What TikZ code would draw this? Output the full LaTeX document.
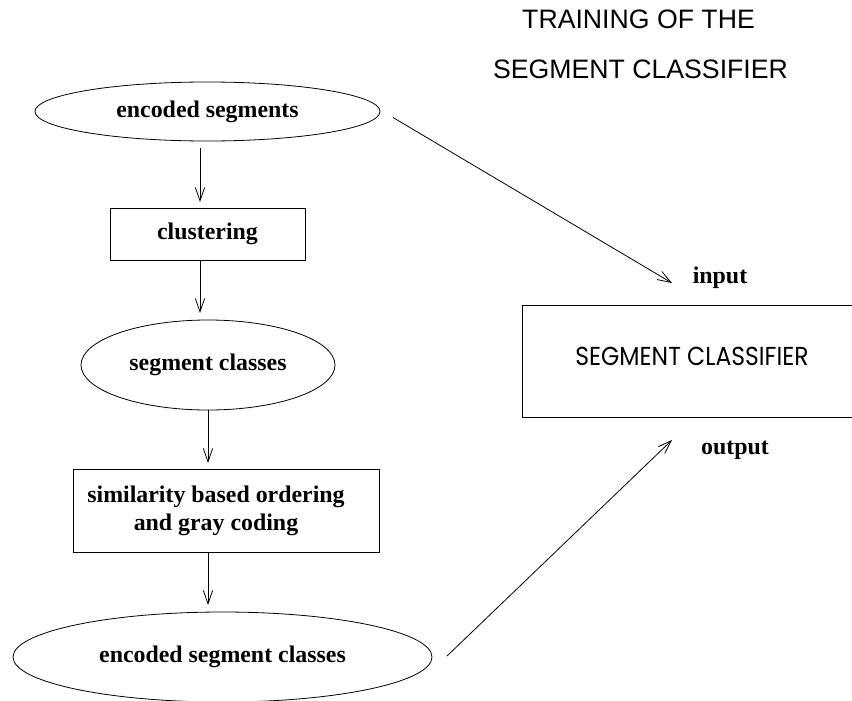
\documentclass[tikz,border=0pt]{standalone}
\usepackage{fontspec}
\setmainfont{Liberation Serif}
\newfontfamily\helvfont{Liberation Sans}
\newfontfamily\geofont{Poppins}
\usetikzlibrary{shapes.geometric,arrows.meta,calc}

\begin{document}
\begin{tikzpicture}[x=0.75pt,y=-0.75pt,
  every node/.style={inner sep=0pt, outer sep=0pt},
  lbl/.style={font=\fontsize{17.9}{22}\selectfont\bfseries},
  oval/.style={ellipse, draw, line width=0.6pt, lbl},
  stepbox/.style={rectangle, draw, line width=0.6pt, lbl, align=center},
  titletext/.style={font=\helvfont\fontsize{20}{24}\selectfont},
  arr/.style={line width=0.6pt, -{Straight Barb[length=10pt,width=7pt,line width=0.6pt]}}
]
\useasboundingbox (0,0) rectangle (852,700);

% title
\node[titletext] (t1) at (638.5,19) {TRAINING OF THE};
\node[titletext] (t2) at (640.5,69) {SEGMENT CLASSIFIER};

% left column: the training pipeline
\node[oval, minimum width=258.75pt, minimum height=44.25pt] (e1) at (207.5,111.5) {encoded segments};
\node[stepbox, minimum width=146.25pt, minimum height=39pt] (b1) at (207.5,234) {clustering};
\node[oval, minimum width=190.5pt, minimum height=67.5pt] (e2) at (208,365) {segment classes};
\node[stepbox, minimum width=229.5pt, minimum height=62.25pt] (b2) at (226,510.5)
  {\begin{tabular}{@{}c@{}}similarity based ordering\\[-1pt] and gray coding\end{tabular}\hspace{15pt}};
\node[oval, minimum width=314.25pt, minimum height=67.5pt] (e3) at (222.5,657) {encoded segment classes};

% the classifier block on the right
\node[rectangle, draw, line width=0.6pt, minimum width=255pt, minimum height=84pt] (sc) at (692,361)
  {\raisebox{3.5pt}[\height][\depth]{\resizebox{175pt}{\height}{\geofont\fontsize{19.5}{22}\selectfont SEGMENT CLASSIFIER}}};
\node[lbl] (in) at (720,278) {input};
\node[lbl] (out) at (735,450) {output};

% flow arrows
\draw[arr] ($(e1.south)+(-7.5,7)$) -- ($(b1.north)+(-7.5,-6)$);
\draw[arr] ($(b1.south)+(-7.5,0)$) -- ($(e2.north)+(-8,-7)$);
\draw[arr] (e2.south) -- ($(b2.north)+(-18,-6)$);
\draw[arr] ($(b2.south)+(-18,0)$) -- ($(e3.north)+(-14.5,-7)$);

\coordinate (inTip) at (672,283);
\coordinate (outTip) at (672,440);
\draw[arr] ($(e1.east)+(13,6)$) -- (inTip);
\draw[arr] ($(e3.east)+(15,-1)$) -- (outTip);
\end{tikzpicture}
\end{document}
